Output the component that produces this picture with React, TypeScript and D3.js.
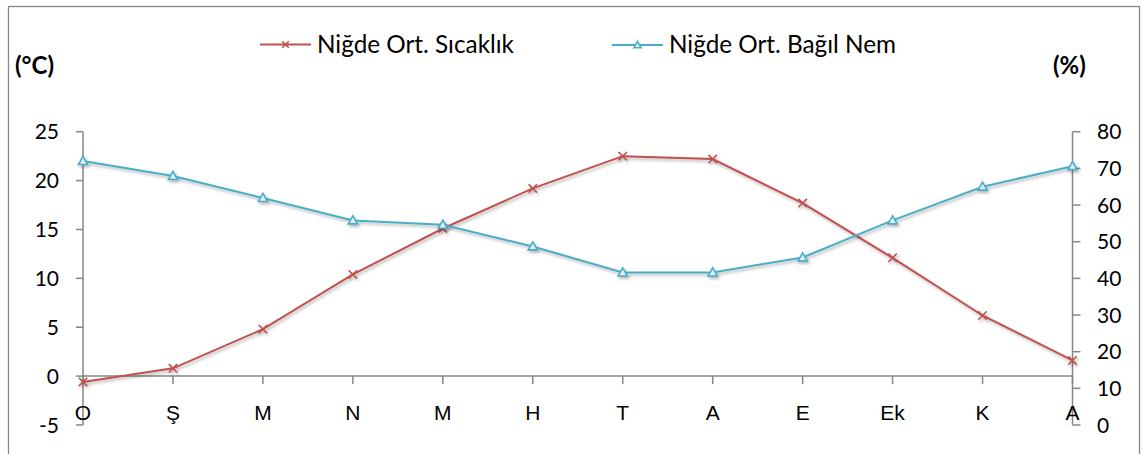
import React from "react";
import * as d3 from "d3";

const months = ["O", "Ş", "M", "N", "M", "H", "T", "A", "E", "Ek", "K", "A"];
const temperature = [-0.6, 0.8, 4.8, 10.4, 15.1, 19.2, 22.5, 22.2, 17.7, 12.1, 6.2, 1.6];
const humidity = [72.0, 67.9, 61.9, 55.8, 54.6, 48.7, 41.6, 41.6, 45.7, 55.8, 65.0, 70.6];
const leftTicks = [-5, 0, 5, 10, 15, 20, 25];
const rightTicks = [0, 10, 20, 30, 40, 50, 60, 70, 80];
const seriesNames = ["Niğde Ort. Sıcaklık", "Niğde Ort. Bağıl Nem"];

const W = 1142;
const H = 454;
const RED = "#C0504D";
const BLUE = "#4BACC6";
const AXIS = "#868686";
const FONT = "Lato, 'Open Sans', sans-serif";
const XFONT = "'Liberation Sans', Arial, sans-serif";

export default function App() {
  const x0 = 83;
  const x1 = 1072.5;
  const top = 131.7;
  const bottom = 425;
  const x = d3.scalePoint<number>().domain(d3.range(months.length)).range([x0, x1]);
  const yL = d3.scaleLinear().domain([-5, 25]).range([bottom, top]);
  const yR = d3.scaleLinear().domain([0, 80]).range([bottom, top]);
  const zeroY = yL(0);

  const lineT = d3.line<number>().x((_, i) => x(i)!).y((d) => yL(d));
  const lineH = d3.line<number>().x((_, i) => x(i)!).y((d) => yR(d));

  const tri = (cx: number, cy: number, s = 4.6) =>
    `M${cx},${cy - s} L${cx + s},${cy + s * 0.75} L${cx - s},${cy + s * 0.75} Z`;
  const cross = (cx: number, cy: number, s = 4.2) =>
    `M${cx - s},${cy - s} L${cx + s},${cy + s} M${cx - s},${cy + s} L${cx + s},${cy - s}`;

  return (
    <div style={{ position: "absolute", left: 0, top: 0 }}>
      <svg width={W} height={H} style={{ display: "block", background: "#fff" }}>
        <defs>
          <filter id="shadow" x="-10%" y="-10%" width="120%" height="130%">
            <feDropShadow dx="1.5" dy="2" stdDeviation="1.6" floodColor="#000" floodOpacity="0.3" />
          </filter>
        </defs>
        <rect x={8.5} y={6.5} width={1131} height={460} fill="#fff" stroke="#898989" strokeWidth={1.3} />

        {/* left axis */}
        <line x1={x0} x2={x0} y1={top} y2={bottom} stroke={AXIS} strokeWidth={1.5} />
        {leftTicks.map((t) => (
          <g key={"l" + t}>
            <line x1={x0 - 7} x2={x0} y1={yL(t)} y2={yL(t)} stroke={AXIS} strokeWidth={1.5} />
            <text x={59} y={yL(t)} dy="0.36em" textAnchor="end" fontFamily={FONT} fontSize={21} fill="#000">
              {t}
            </text>
          </g>
        ))}

        {/* right axis */}
        <line x1={x1} x2={x1} y1={top} y2={bottom} stroke={AXIS} strokeWidth={1.5} />
        {rightTicks.map((t) => (
          <g key={"r" + t}>
            <line x1={x1} x2={x1 + 8} y1={yR(t)} y2={yR(t)} stroke={AXIS} strokeWidth={1.5} />
            <text x={1097} y={yR(t)} dy="0.36em" textAnchor="start" fontFamily={FONT} fontSize={21} fill="#000">
              {t}
            </text>
          </g>
        ))}

        {/* x axis at 0 */}
        <line x1={x0} x2={x1} y1={zeroY} y2={zeroY} stroke={AXIS} strokeWidth={1.5} />
        {months.map((m, i) => (
          <g key={"x" + i}>
            <line x1={x(i)} x2={x(i)} y1={zeroY} y2={zeroY + 8} stroke={AXIS} strokeWidth={1.5} />
            <text x={x(i)} y={420} textAnchor="middle" fontFamily={XFONT} fontSize={21} fill="#000">
              {m}
            </text>
          </g>
        ))}

        {/* series */}
        <g filter="url(#shadow)">
          <path d={lineT(temperature)!} fill="none" stroke={RED} strokeWidth={2} />
          {temperature.map((v, i) => (
            <path key={"t" + i} d={cross(x(i)!, yL(v))} stroke={RED} strokeWidth={1.6} fill="none" />
          ))}
        </g>
        <g filter="url(#shadow)">
          <path d={lineH(humidity)!} fill="none" stroke={BLUE} strokeWidth={2} />
          {humidity.map((v, i) => (
            <path key={"h" + i} d={tri(x(i)!, yR(v))} stroke={BLUE} strokeWidth={1.6} fill="#DDF0F5" />
          ))}
        </g>

        {/* axis titles */}
        <text x={15} y={74} fontFamily={FONT} fontWeight="bold" fontSize={24} fill="#000">(°C)</text>
        <text x={1053} y={74} fontFamily={FONT} fontWeight="bold" fontSize={24} fill="#000">(%)</text>

        {/* legend */}
        <line x1={260} x2={311} y1={44.5} y2={44.5} stroke={RED} strokeWidth={2} />
        <path d={cross(285.5, 44.5, 3.3)} stroke={RED} strokeWidth={1.6} />
        <text x={317} y={44.5} dy="0.36em" fontFamily={FONT} fontSize={24.3} fill="#000">{seriesNames[0]}</text>
        <line x1={612} x2={663} y1={45} y2={45} stroke={BLUE} strokeWidth={2} />
        <path d={tri(637.5, 45, 3.6)} stroke={BLUE} strokeWidth={1.6} fill="#DDF0F5" />
        <text x={669} y={44.5} dy="0.36em" fontFamily={FONT} fontSize={24.3} fill="#000">{seriesNames[1]}</text>
      </svg>
    </div>
  );
}
